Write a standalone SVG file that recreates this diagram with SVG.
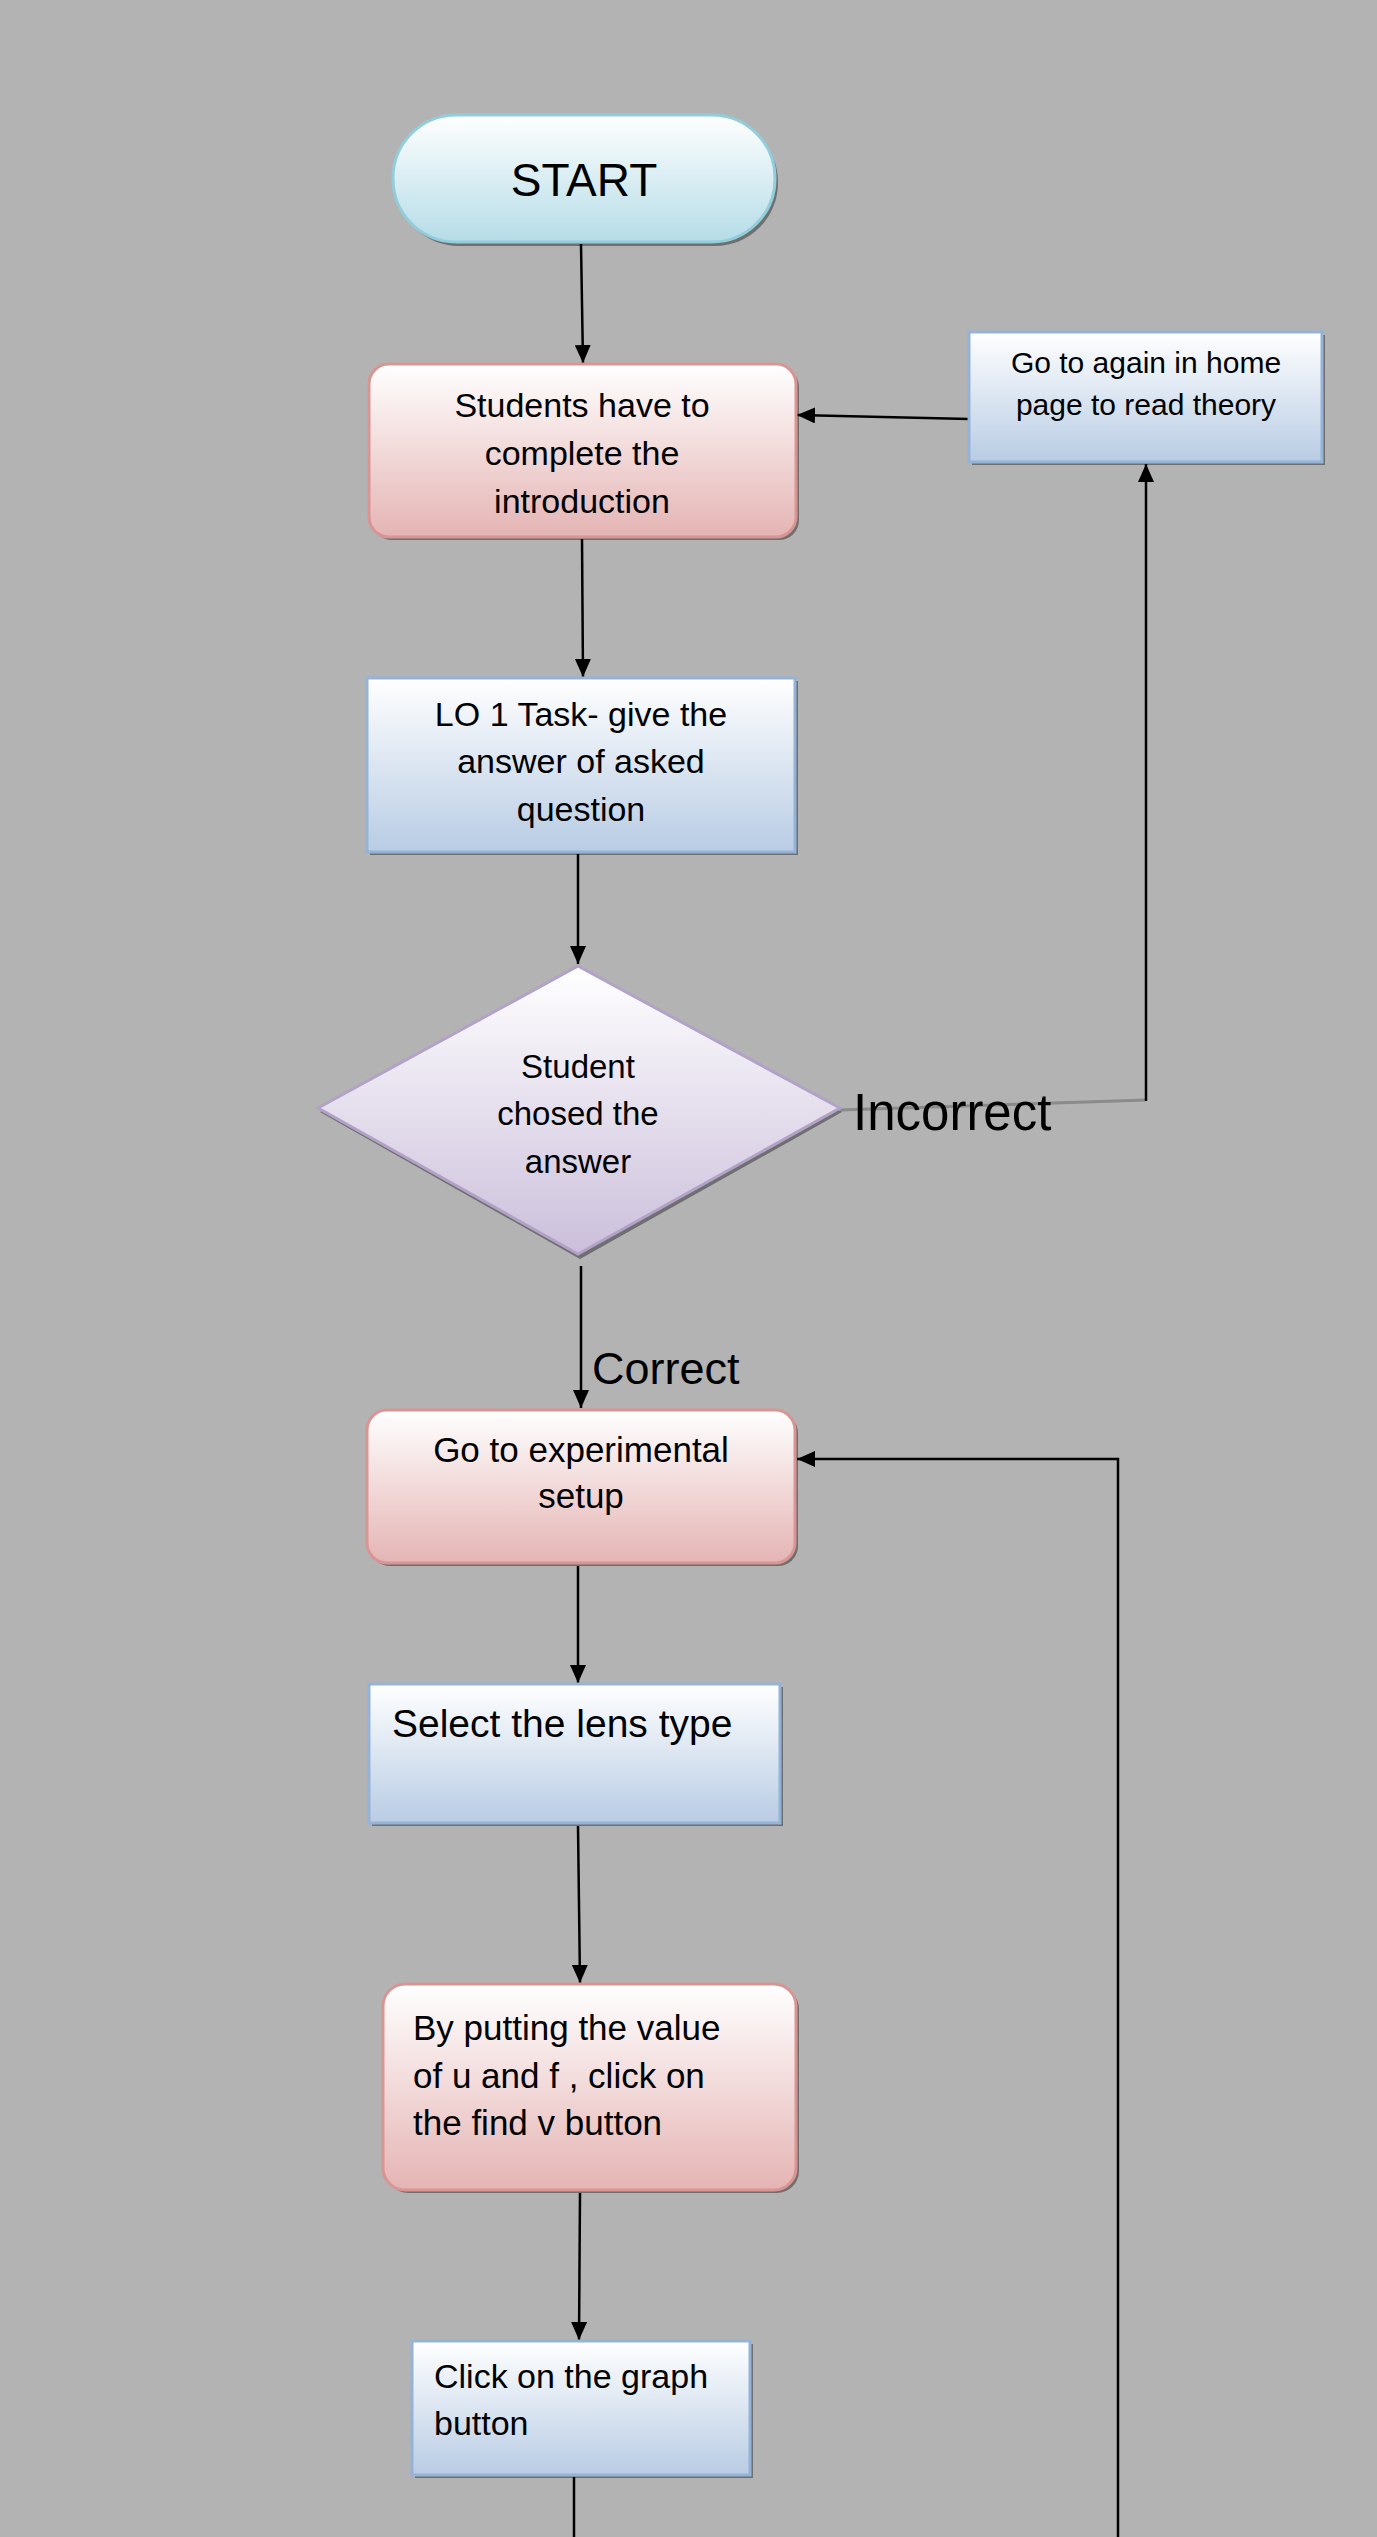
<svg xmlns="http://www.w3.org/2000/svg" width="1377" height="2537" viewBox="0 0 1377 2537">
<defs>
<linearGradient id="gCyan" x1="0" y1="0" x2="0" y2="1"><stop offset="0" stop-color="#ffffff"/><stop offset="1" stop-color="#b5dce7"/></linearGradient>
<linearGradient id="gPink" x1="0" y1="0" x2="0" y2="1"><stop offset="0" stop-color="#ffffff"/><stop offset="1" stop-color="#e5b4b4"/></linearGradient>
<linearGradient id="gBlue" x1="0" y1="0" x2="0" y2="1"><stop offset="0" stop-color="#ffffff"/><stop offset="1" stop-color="#b8cce4"/></linearGradient>
<linearGradient id="gPurple" x1="0" y1="0" x2="0" y2="1"><stop offset="0" stop-color="#ffffff"/><stop offset="1" stop-color="#cbbfdb"/></linearGradient>
<marker id="arr" markerUnits="userSpaceOnUse" markerWidth="18" markerHeight="16" refX="18" refY="8" orient="auto"><path d="M0,0 L18,8 L0,16 Z" fill="#000"/></marker>
</defs>
<style>
.t{font-family:"Liberation Sans",Arial,sans-serif;fill:#000}
.c{text-anchor:middle}
.sh{fill:#000;fill-opacity:0.38}
.pink{fill:url(#gPink);stroke:#d99594;stroke-width:3}
.blue{fill:url(#gBlue);stroke:#95b3d7;stroke-width:3}
.conn{stroke:#000;stroke-width:2.5;fill:none}
</style>
<rect width="1377" height="2537" fill="#b3b3b3"/>

<g id="connectors">
<line class="conn" x1="581" y1="244" x2="583" y2="363" marker-end="url(#arr)"/>
<line class="conn" x1="582" y1="539" x2="583" y2="677" marker-end="url(#arr)"/>
<line class="conn" x1="578" y1="854" x2="578" y2="964" marker-end="url(#arr)"/>
<line class="conn" x1="581" y1="1266" x2="581" y2="1408" marker-end="url(#arr)"/>
<line class="conn" x1="578" y1="1566" x2="578" y2="1683" marker-end="url(#arr)"/>
<line class="conn" x1="578" y1="1826" x2="580" y2="1983" marker-end="url(#arr)"/>
<line class="conn" x1="580" y1="2193" x2="579" y2="2340" marker-end="url(#arr)"/>
<line class="conn" x1="574" y1="2477" x2="574" y2="2537"/>
<line x1="840" y1="1110" x2="1146" y2="1100" stroke="#8a8a8a" stroke-width="3"/>
<line class="conn" x1="1146" y1="1101" x2="1146" y2="464" marker-end="url(#arr)"/>
<line class="conn" x1="969" y1="419" x2="797" y2="415" marker-end="url(#arr)"/>
<polyline class="conn" points="1118,2537 1118,1459 797,1459" marker-end="url(#arr)"/>
</g>

<g id="start">
<rect class="sh" x="396" y="119" width="382" height="127" rx="63"/>
<rect x="393" y="115" width="382" height="127" rx="63" fill="url(#gCyan)" stroke="#92cddc" stroke-width="3"/>
<text class="t c" x="584" y="196" font-size="46">START</text>
</g>

<g id="introduction">
<rect class="sh" x="372" y="367" width="427" height="173" rx="20"/>
<rect class="pink" x="369" y="364" width="427" height="173" rx="20"/>
<text class="t c" font-size="34"><tspan x="582" y="417">Students have to</tspan><tspan x="582" y="465">complete the</tspan><tspan x="582" y="513">introduction</tspan></text>
</g>

<g id="home-page">
<rect class="sh" x="972" y="335" width="353" height="130"/>
<rect class="blue" x="969" y="332" width="353" height="130"/>
<text class="t c" font-size="30"><tspan x="1146" y="373">Go to again in home</tspan><tspan x="1146" y="415">page to read theory</tspan></text>
</g>

<g id="lo1-task">
<rect class="sh" x="370" y="681" width="428" height="174"/>
<rect class="blue" x="367" y="678" width="428" height="174"/>
<text class="t c" font-size="34"><tspan x="581" y="726">LO 1 Task- give the</tspan><tspan x="581" y="773">answer of asked</tspan><tspan x="581" y="821">question</tspan></text>
</g>

<g id="decision">
<polygon class="sh" points="580,970 842,1112 580,1259 320,1112"/>
<polygon points="578,966 840,1108 578,1254 318,1108" fill="url(#gPurple)" stroke="#b3a2c7" stroke-width="3"/>
<text class="t c" font-size="33"><tspan x="578" y="1078">Student</tspan><tspan x="578" y="1125">chosed the</tspan><tspan x="578" y="1173">answer</tspan></text>
</g>

<g id="labels">
<text class="t" x="853" y="1130" font-size="51">Incorrect</text>
<text class="t" x="592" y="1384" font-size="45">Correct</text>
</g>

<g id="experimental-setup">
<rect class="sh" x="370" y="1413" width="428" height="153" rx="20"/>
<rect class="pink" x="367" y="1410" width="428" height="153" rx="20"/>
<text class="t c" font-size="35"><tspan x="581" y="1462">Go to experimental</tspan><tspan x="581" y="1508">setup</tspan></text>
</g>

<g id="lens-type">
<rect class="sh" x="372" y="1687" width="411" height="139"/>
<rect class="blue" x="369" y="1684" width="411" height="139"/>
<text class="t" x="392" y="1737" font-size="39">Select the lens type</text>
</g>

<g id="find-v">
<rect class="sh" x="386" y="1987" width="413" height="206" rx="22"/>
<rect class="pink" x="383" y="1984" width="413" height="206" rx="22"/>
<text class="t" font-size="35"><tspan x="413" y="2040">By putting the value</tspan><tspan x="413" y="2088">of u and f , click on</tspan><tspan x="413" y="2135">the find v button</tspan></text>
</g>

<g id="graph-button">
<rect class="sh" x="415" y="2344" width="338" height="134"/>
<rect class="blue" x="412" y="2341" width="338" height="134"/>
<text class="t" font-size="34"><tspan x="434" y="2388">Click on the graph</tspan><tspan x="434" y="2435">button</tspan></text>
</g>
</svg>
